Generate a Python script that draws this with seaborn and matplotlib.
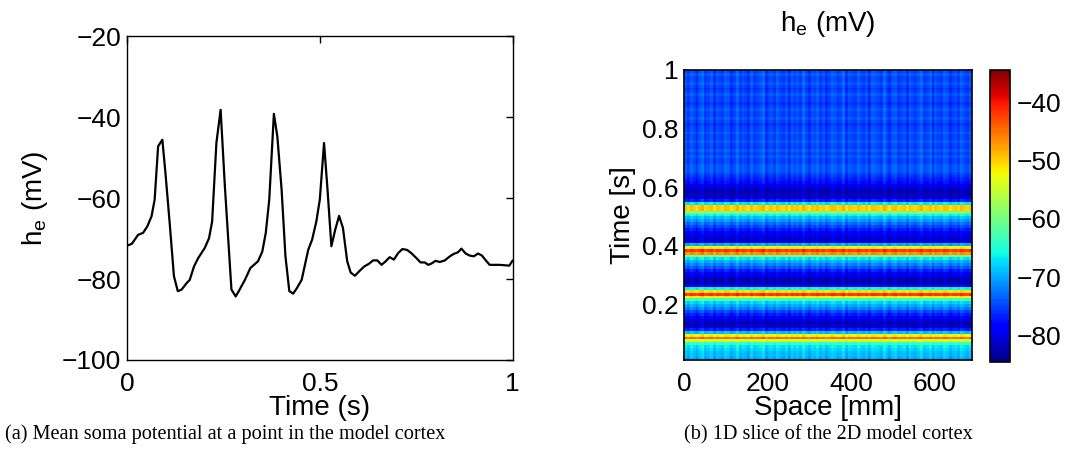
import numpy as np
import pandas as pd
import seaborn as sns
import matplotlib.pyplot as plt

# (a) mean soma potential at one point
time_a = [0.0, 0.013, 0.029, 0.042, 0.053, 0.064, 0.072, 0.081, 0.092, 0.100,
          0.111, 0.122, 0.132, 0.142, 0.155, 0.163, 0.174, 0.185, 0.202, 0.213,
          0.221, 0.232, 0.243, 0.254, 0.271, 0.282, 0.290, 0.306, 0.320, 0.340,
          0.351, 0.360, 0.369, 0.381, 0.390, 0.401, 0.411, 0.421, 0.431, 0.441,
          0.453, 0.470, 0.480, 0.491, 0.500, 0.511, 0.520, 0.530, 0.540, 0.550,
          0.560, 0.571, 0.580, 0.591, 0.602, 0.615, 0.628, 0.638, 0.649, 0.660,
          0.671, 0.681, 0.692, 0.703, 0.714, 0.726, 0.737, 0.750, 0.761, 0.772,
          0.781, 0.789, 0.800, 0.811, 0.824, 0.837, 0.847, 0.858, 0.867, 0.878,
          0.888, 0.899, 0.910, 0.920, 0.932, 0.940, 0.953, 0.966, 0.979, 0.991,
          1.0]
he_a = [-71.8, -71.3, -69.1, -68.6, -67.0, -64.5, -60.4, -47.2, -45.6, -53.8,
        -66.2, -79.3, -83.0, -82.6, -81.0, -80.2, -76.9, -74.8, -72.3, -69.9,
        -65.8, -46.4, -38.2, -57.1, -82.6, -84.3, -83.0, -80.2, -77.3, -75.6,
        -73.2, -68.6, -60.4, -39.2, -44.8, -57.9, -74.4, -83.0, -83.6, -82.2,
        -80.2, -72.8, -70.3, -65.8, -60.4, -46.4, -57.9, -71.9, -67.8, -64.4,
        -67.4, -75.6, -78.4, -79.2, -78.1, -76.9, -76.2, -75.4, -75.4, -76.5,
        -75.6, -74.6, -75.2, -73.6, -72.6, -72.8, -73.6, -74.8, -75.9, -75.9,
        -76.5, -76.2, -75.5, -75.8, -75.4, -74.4, -73.8, -73.4, -72.5, -73.7,
        -74.2, -74.4, -73.7, -74.2, -75.6, -76.5, -76.5, -76.5, -76.6, -76.7,
        -75.4]

# (b) 1D slice: potential profile over time (rows, t = 1.00 down to 0.02 s)
time_b = np.round(np.arange(1.0, 0.015, -0.01), 2)
he_time = [-75, -74, -75, -75, -74, -75, -76, -75, -74, -75,
           -75, -76, -75, -74, -75, -75, -74, -75, -76, -75,
           -75, -74, -75, -75, -74, -75, -75, -74, -75, -74,
           -75, -75, -74, -74, -74,
           -75, -76, -77, -78, -80, -81, -82, -82, -81, -77,
           -67, -50, -50, -60, -66, -69, -71, -73, -75, -77,
           -79, -80, -81, -81, -70, -52, -42, -47, -60, -67,
           -70, -72, -74, -77, -79, -81, -82, -82, -80, -66,
           -51, -42, -52, -63, -68, -70, -72, -75, -77, -79,
           -81, -82, -81, -77, -69, -52, -45, -55, -64, -67,
           -68, -69, -69, -70]
# column to column deviation along space (mV), 100 columns of 6.9 mm
he_space = [0.6, -0.6, 1.2, 0, -1.2, 0.6, 1.8, -0.6, 0, 1.2,
            -1.2, 0.6, 0, -0.6, 1.2, 0.6, -1.2, 0, 1.8, -0.6,
            0.6, 0, -1.2, 1.2, -0.6, 0, 0.6, 1.8, -1.2, 0,
            0.6, -0.6, 1.2, 0, -0.6, 0.6, -1.2, 1.2, 0, 0.6,
            -0.6, 1.8, 0, -1.2, 0.6, 0, 1.2, -0.6, 0.6, -1.2,
            0, 1.2, 0.6, -0.6, 0, 1.8, -1.2, 0.6, 0, -0.6,
            1.2, 0, -0.6, 0.6, -1.2, 1.2, 0.6, 0, -0.6, 1.8,
            0, -1.2, 0.6, 1.2, -0.6, 0, 0.6, -1.2, 1.2, 0,
            -0.6, 0.6, 1.8, -0.6, 0, 1.2, -1.2, 0.6, 0, -0.6,
            1.2, 0.6, -1.2, 0, 0.6, -0.6, 1.2, 0, -0.6, 0.6]
dx_mm = 6.9
space_mm = np.round(np.arange(len(he_space)) * dx_mm, 1)

sns.set_style('white')
plt.rcParams['font.family'] = ['Liberation Sans', 'DejaVu Sans']
plt.rcParams['axes.edgecolor'] = 'black'
plt.rcParams['axes.linewidth'] = 1.0
plt.rcParams['text.color'] = 'black'
plt.rcParams['axes.labelcolor'] = 'black'

fig = plt.figure(figsize=(10.66, 4.66), dpi=100)
ax1 = fig.add_axes([0.119, 0.2275, 0.362, 0.695])
ax2 = fig.add_axes([0.6417, 0.2275, 0.270, 0.6223])
cax = fig.add_axes([0.9287, 0.2232, 0.0188, 0.6266])

# left: line trace
sns.lineplot(x=time_a, y=he_a, ax=ax1, color='black', linewidth=1.6)
ax1.set_xlim(0, 1)
ax1.set_ylim(-100, -20)
ax1.set_xticks([0, 0.5, 1])
ax1.set_xticklabels(['0', '0.5', '1'])
ax1.set_yticks([-100, -80, -60, -40, -20])
ax1.tick_params(direction='in', top=True, right=True, length=5, width=1,
                labelsize=19, colors='black')
ax1.tick_params(axis='x', pad=9)
ax1.tick_params(axis='y', pad=4)
ax1.set_xlabel('Time (s)', fontsize=20, labelpad=-1)
ax1.set_ylabel('h$_\\mathregular{e}$ (mV)', fontsize=20)
ax1.yaxis.set_label_coords(-0.2, 0.5)
for s in ax1.spines.values():
    s.set_visible(True)
    s.set_color('black')

# right: space-time map
grid = pd.DataFrame(np.add.outer(he_time, he_space), index=time_b, columns=space_mm)
sns.heatmap(grid, ax=ax2, cmap='jet', vmin=-84.5, vmax=-34.5, cbar_ax=cax,
            xticklabels=False, yticklabels=False)
xt = [0, 200, 400, 600]
ax2.set_xticks([v / dx_mm for v in xt])
ax2.set_xticklabels([str(v) for v in xt])
yt = [0.2, 0.4, 0.6, 0.8, 1.0]
ax2.set_yticks([(1.0 - v) / 0.01 for v in yt])
ax2.set_yticklabels(['0.2', '0.4', '0.6', '0.8', '1'], rotation=0)
ax2.tick_params(direction='in', top=True, right=True, bottom=True, left=True,
                length=4, width=1, labelsize=19, colors='black')
ax2.tick_params(axis='x', pad=9)
ax2.tick_params(axis='y', pad=4)
ax2.set_xlabel('Space [mm]', fontsize=20, labelpad=-1)
ax2.set_ylabel('Time [s]', fontsize=20, labelpad=4)
ax2.set_title('h$_\\mathregular{e}$ (mV)', fontsize=20, pad=28)
for s in ax2.spines.values():
    s.set_visible(True)
    s.set_color('black')
    s.set_linewidth(1.2)

cbar = ax2.collections[0].colorbar
cbar.set_ticks([-80, -70, -60, -50, -40])
cbar.outline.set_edgecolor('black')
cbar.outline.set_linewidth(1.2)
cax.tick_params(direction='in', left=True, right=True, length=3, width=1,
                labelsize=19, pad=5, colors='black')

# captions
fig.text(0.211, 0.068, '(a) Mean soma potential at a point in the model cortex',
         ha='center', va='center', fontsize=14.6, family='Liberation Serif')
fig.text(0.777, 0.068, '(b) 1D slice of the 2D model cortex',
         ha='center', va='center', fontsize=14.6, family='Liberation Serif')

fig.savefig('out.png', dpi=100)
